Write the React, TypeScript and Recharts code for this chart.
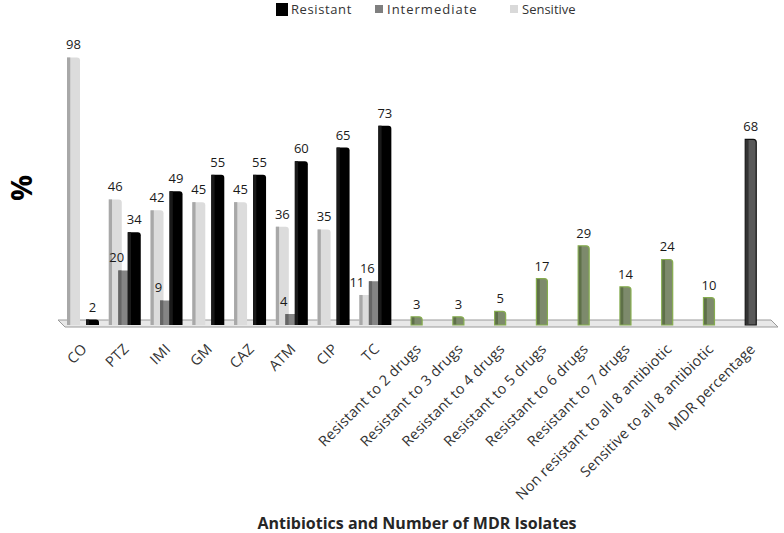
import React from 'react';
import { BarChart, Bar, XAxis, YAxis, LabelList, Cell } from 'recharts';

const categories = ['CO', 'PTZ', 'IMI', 'GM', 'CAZ', 'ATM', 'CIP', 'TC',
  'Resistant to 2 drugs', 'Resistant to 3 drugs', 'Resistant to 4 drugs', 'Resistant to 5 drugs',
  'Resistant to 6 drugs', 'Resistant to 7 drugs', 'Non resistant to all 8 antibiotic',
  'Sensitive to all 8 antibiotic', 'MDR percentage'];
const sensitive = [98, 46, 42, 45, 45, 36, 35, 11, null, null, null, null, null, null, null, null, null];
const intermediate = [null, 20, 9, null, null, 4, null, 16, null, null, null, null, null, null, null, null, null];
const resistant = [2, 34, 49, 55, 55, 60, 65, 73, null, null, null, null, null, null, null, null, null];
const mdrIsolates = [null, null, null, null, null, null, null, null, 3, 3, 5, 17, 29, 14, 24, 10, 68];
const legendItems = [
  { name: 'Resistant', color: '#000000' },
  { name: 'Intermediate', color: '#7f7f7f' },
  { name: 'Sensitive', color: '#d9d9d9' },
];

const rows = categories.map((c, i) => ({
  name: c,
  Sensitive: sensitive[i],
  Intermediate: intermediate[i],
  Resistant: resistant[i],
  Other: mdrIsolates[i],
}));

const FONT = '"Open Sans", Lato, sans-serif';

const makeShape = (front: string, side: string, stroke?: string) => (props: any) => {
  const { x, y, width, height } = props;
  if (!height || height <= 0) return null;
  const r = Math.min(3, width / 3);
  const sideW = Math.max(2, width * 0.25);
  const path = `M${x},${y + height} L${x},${y} L${x + width - r},${y} Q${x + width},${y} ${x + width},${y + r} L${x + width},${y + height} Z`;
  const inset = stroke ? 0.6 : 0;
  return (
    <g>
      <path d={path} fill={front} stroke={stroke || 'none'} strokeWidth={stroke ? 1.2 : 0} />
      <rect x={x + inset} y={y + inset} width={sideW} height={Math.max(0, height - 2 * inset)} fill={side} />
    </g>
  );
};

const labelText = (x: number, y: number, value: any) => (
  <text x={x} y={y} textAnchor="middle" fontSize={13} fill="#1a1a1a" fontFamily={FONT}>
    {value}
  </text>
);

const makeLabel = (dx: number, avoidKey?: string) => (props: any) => {
  const { x, y, width, value, index } = props;
  if (value == null) return null;
  let shift = dx;
  if (avoidKey) {
    const other = rows[index] ? (rows[index] as any)[avoidKey] : null;
    if (other != null && other > value) shift = -9;
  }
  return labelText(x + width / 2 + shift, y - 8, value);
};

const Tick = (props: any) => {
  const { x, payload } = props;
  const px = x + 5;
  const py = 350;
  return (
    <text x={px} y={py} transform={`rotate(-45 ${px} ${py})`} textAnchor="end" fontSize={14.5} letterSpacing={0.2} fill="#333333" fontFamily={FONT}>
      {payload.value}
    </text>
  );
};

export default function App() {
  return (
    <div style={{ position: 'absolute', left: 0, top: 0, width: 784, height: 533, background: '#fff', fontFamily: FONT }}>
      <svg width={784} height={533} style={{ position: 'absolute', left: 0, top: 0 }}>
        <polygon points="58,320 771,320 778,327 65,327" fill="#e8e8e8" stroke="#9a9a9a" strokeWidth={1} />
        <text x={0} y={0} transform="translate(20 188) rotate(-90)" textAnchor="middle" dominantBaseline="central" fontSize={29} fontWeight={700} fill="#000" fontFamily={FONT}>%</text>
      </svg>
      <div style={{ position: 'absolute', left: 0, top: 0 }}>
        <BarChart width={784} height={533} data={rows} margin={{ top: 52, right: 12, left: 62, bottom: 0 }} barGap={-3.5}>
          <XAxis dataKey="name" xAxisId="a" interval={0} axisLine={false} tickLine={false} height={208} tick={<Tick />}
            label={{ value: 'Antibiotics and Number of MDR Isolates', position: 'insideBottom', offset: 4, fontSize: 16, fontWeight: 700, fill: '#262626', fontFamily: FONT }} />
          <XAxis dataKey="name" xAxisId="b" hide />
          <YAxis domain={[0, 100]} hide />
          <Bar dataKey="Sensitive" xAxisId="a" barSize={13} fill="#d9d9d9" isAnimationActive={false} shape={makeShape('#dcdcdc', '#a8a8a8')}>
            <LabelList dataKey="Sensitive" content={makeLabel(0, 'Intermediate')} />
          </Bar>
          <Bar dataKey="Intermediate" xAxisId="a" barSize={13} fill="#7f7f7f" isAnimationActive={false} shape={makeShape('#858585', '#666666')}>
            <LabelList dataKey="Intermediate" content={makeLabel(-8)} />
          </Bar>
          <Bar dataKey="Resistant" xAxisId="a" barSize={13} fill="#000" isAnimationActive={false} shape={makeShape('#000000', '#1a1a1a')}>
            <LabelList dataKey="Resistant" content={makeLabel(0)} />
          </Bar>
          <Bar dataKey="Other" xAxisId="b" barSize={11} fill="#7c8c68" isAnimationActive={false}
            shape={(p: any) => {
              const isMdr = p.payload && p.payload.name === 'MDR percentage';
              return makeShape(isMdr ? '#595959' : '#7d8a6c', isMdr ? '#333333' : '#5e7048', isMdr ? '#111111' : '#86ad4f')(p);
            }}>
            {rows.map((r, i) => (<Cell key={i} fill={r.name === 'MDR percentage' ? '#595959' : '#7d8a6c'} />))}
            <LabelList dataKey="Other" content={makeLabel(0)} />
          </Bar>
        </BarChart>
      </div>
      <div style={{ position: 'absolute', top: 0, left: 0, width: 784, height: 18, fontFamily: FONT, fontSize: 13, color: '#333' }}>
        {legendItems.map((it, i) => (
          <div key={it.name} style={{ position: 'absolute', left: [276, 375, 510][i], top: 0, display: 'flex', alignItems: 'center', height: 18 }}>
            <span style={{ display: 'inline-block', width: i === 0 ? 12 : 8, height: i === 0 ? 13 : 8, background: it.color, marginRight: i === 0 ? 3 : 4 }} />
            <span style={{ letterSpacing: [0.6, 1.0, 0][i] }}>{it.name}</span>
          </div>
        ))}
      </div>
    </div>
  );
}
